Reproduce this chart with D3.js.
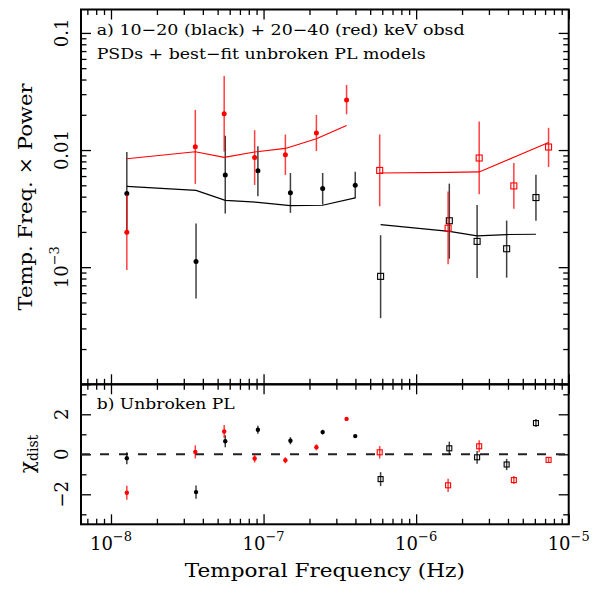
<!DOCTYPE html>
<html>
<head>
<meta charset="utf-8">
<script src="https://cdn.jsdelivr.net/npm/d3@7"></script>
<style>
  body { margin: 0; background: #fff; }
  svg { display: block; font-family: "DejaVu Serif", serif; }
</style>
</head>
<body>
<div id="chart"></div>
<script>
"use strict";

/* 10-20 keV (black), low frequencies: filled circles */
var softLowFreq   = [1.27e-8, 3.61e-8, 5.61e-8, 9.18e-8, 1.50e-7, 2.44e-7, 3.99e-7];
var softLowPow    = [0.00425, 0.00112, 0.00612, 0.00667, 0.00431, 0.00469, 0.00500];
var softLowLo     = [0.00202, 0.00054, 0.00287, 0.00403, 0.00291, 0.00342, 0.00388];
var softLowHi     = [0.00962, 0.00236, 0.01325, 0.0108, 0.00637, 0.00637, 0.00654];
var softLowModel  = [0.00490, 0.00453, 0.00372, 0.00358, 0.00336, 0.00338, 0.00390];
var softLowChi    = [-0.2, -1.89, 0.65, 1.23, 0.68, 1.11, 0.91];
var softLowChiErr = [0.3, 0.33, 0.3, 0.2, 0.18, 0.12, 0.06];

/* 20-40 keV (red), low frequencies: filled circles */
var hardLowFreq   = [1.27e-8, 3.57e-8, 5.52e-8, 8.74e-8, 1.39e-7, 2.22e-7, 3.50e-7];
var hardLowPow    = [0.00199, 0.01066, 0.0204, 0.00865, 0.00912, 0.01396, 0.0268];
var hardLowLo     = [0.000944, 0.00514, 0.00973, 0.00504, 0.00612, 0.00981, 0.0202];
var hardLowHi     = [0.00417, 0.0220, 0.0429, 0.01479, 0.01358, 0.01995, 0.0360];
var hardLowModel  = [0.00843, 0.00967, 0.00865, 0.00962, 0.01032, 0.01248, 0.01619];
var hardLowChi    = [-1.92, 0.12, 1.14, -0.21, -0.3, 0.35, 1.77];
var hardLowChiErr = [0.35, 0.33, 0.33, 0.2, 0.15, 0.15, 0.08];

/* 10-20 keV (black), high frequencies: open squares */
var softHighFreq   = [5.85e-7, 1.65e-6, 2.51e-6, 3.92e-6, 6.10e-6];
var softHighPow    = [0.000835, 0.00249, 0.00166, 0.001437, 0.00393];
var softHighLo     = [0.000367, 0.00118, 0.000807, 0.000814, 0.00249];
var softHighHi     = [0.001876, 0.00517, 0.0034, 0.0025, 0.00616];
var softHighModel  = [0.00231, 0.00202, 0.00185, 0.0019, 0.00191];
var softHighChi    = [-1.24, 0.3, -0.15, -0.51, 1.56];
var softHighChiErr = [0.35, 0.33, 0.32, 0.28, 0.2];

/* 20-40 keV (red), high frequencies: open squares */
var hardHighFreq   = [5.77e-7, 1.62e-6, 2.59e-6, 4.37e-6, 7.38e-6];
var hardHighPow    = [0.0067, 0.00215, 0.00855, 0.00494, 0.01061];
var hardHighLo     = [0.00331, 0.00106, 0.00419, 0.00315, 0.00717];
var hardHighHi     = [0.01358, 0.00442, 0.0175, 0.00775, 0.01549];
var hardHighModel  = [0.00637, 0.00645, 0.0065, 0.00868, 0.01161];
var hardHighChi    = [0.1, -1.55, 0.4, -1.29, -0.28];
var hardHighChiErr = [0.31, 0.33, 0.3, 0.2, 0.1];

var xDecades   = [-8, -7, -6, -5];
var yTopLabels = [{ v: 0.1, t: "0.1" }, { v: 0.01, t: "0.01" }, { v: 0.001, t: "10", sup: "−3" }];
var yBotLabels = [{ v: 2, t: "2" }, { v: 0, t: "0" }, { v: -2, t: "−2" }];


var series = [
  { color: "black", marker: "circle", freq: softLowFreq, pow: softLowPow, lo: softLowLo, hi: softLowHi, model: softLowModel, chi: softLowChi, chiErr: softLowChiErr },
  { color: "black", marker: "square", freq: softHighFreq, pow: softHighPow, lo: softHighLo, hi: softHighHi, model: softHighModel, chi: softHighChi, chiErr: softHighChiErr },
  { color: "red",   marker: "circle", freq: hardLowFreq, pow: hardLowPow, lo: hardLowLo, hi: hardLowHi, model: hardLowModel, chi: hardLowChi, chiErr: hardLowChiErr },
  { color: "red",   marker: "square", freq: hardHighFreq, pow: hardHighPow, lo: hardHighLo, hi: hardHighHi, model: hardHighModel, chi: hardHighChi, chiErr: hardHighChiErr }
];

series.forEach(function (s) {
  s.points = s.freq.map(function (f, i) {
    return { f: f, p: s.pow[i], lo: s.lo[i], hi: s.hi[i], m: s.model[i], c: s.chi[i], ce: s.chiErr[i] };
  });
});


var W = 594, H = 589;
var pLeft = 81, pRight = 568.7, pTop = 9.5, pMid = 384.3, pBottom = 524.3;

var svg = d3.select("#chart")
            .append("svg")
            .attr("width", W)
            .attr("height", H);

var x = d3.scaleLog()
          .domain([6.36e-9, 1e-5])
          .range([pLeft, pRight]);

var yTop = d3.scaleLog()
             .domain([1e-4, Math.pow(10, -0.8)])
             .range([pMid, pTop]);

var yBot = d3.scaleLinear()
             .domain([-3.5, 3.5])
             .range([pBottom, pMid]);


/* tick marks, all pointing inward */
var isDecade = function (v) {
  var l = Math.log10(v);
  return Math.abs(l - Math.round(l)) < 1e-6;
};

var xAll = x.ticks();
var xMajor = xAll.filter(isDecade);
var xMinor = xAll.filter(function (v) { return !isDecade(v); });

var yAll = yTop.ticks();
var yMajor = yAll.filter(isDecade);
var yMinor = yAll.filter(function (v) { return !isDecade(v); });

var bMajor = [-2, 0, 2];
var bMinor = [-3, -1, 1, 3];

var tickGroup = function (axis, values, size, tx, ty) {
  svg.append("g")
     .attr("transform", "translate(" + tx + "," + ty + ")")
     .call(axis.tickValues(values).tickSize(size).tickSizeOuter(0).tickFormat(""))
     .call(function (g) {
       g.select(".domain").remove();
       g.selectAll(".tick line").attr("stroke", "black").attr("stroke-width", 1.3);
     });
};

var MAJ = 10, MIN = 5.5;

[[pTop, "top"], [pMid, "bottom"], [pMid, "top"], [pBottom, "bottom"]].forEach(function (d) {
  var axisFn = d[1] == "top" ? d3.axisTop : d3.axisBottom;
  tickGroup(axisFn(x), xMajor, -MAJ, 0, d[0]);
  tickGroup(axisFn(x), xMinor, -MIN, 0, d[0]);
});

tickGroup(d3.axisLeft(yTop), yMajor, -MAJ, pLeft, 0);
tickGroup(d3.axisLeft(yTop), yMinor, -MIN, pLeft, 0);
tickGroup(d3.axisRight(yTop), yMajor, -MAJ, pRight, 0);
tickGroup(d3.axisRight(yTop), yMinor, -MIN, pRight, 0);

tickGroup(d3.axisLeft(yBot), bMajor, -MAJ, pLeft, 0);
tickGroup(d3.axisLeft(yBot), bMinor, -MIN, pLeft, 0);
tickGroup(d3.axisRight(yBot), bMajor, -MAJ, pRight, 0);
tickGroup(d3.axisRight(yBot), bMinor, -MIN, pRight, 0);


/* panel frames */
svg.append("rect")
   .attr("x", pLeft).attr("y", pTop)
   .attr("width", pRight - pLeft).attr("height", pMid - pTop)
   .attr("fill", "none").attr("stroke", "black").attr("stroke-width", 2);

svg.append("rect")
   .attr("x", pLeft).attr("y", pMid)
   .attr("width", pRight - pLeft).attr("height", pBottom - pMid)
   .attr("fill", "none").attr("stroke", "black").attr("stroke-width", 2);


/* zero line in residual panel */
svg.append("line")
   .attr("x1", pLeft)
   .attr("x2", pRight)
   .attr("y1", yBot(0))
   .attr("y2", yBot(0))
   .attr("stroke", "#222")
   .attr("stroke-width", 2)
   .attr("stroke-dasharray", "9,10");


/* data */
var line = d3.line()
             .x(function (d) { return x(d.f); })
             .y(function (d) { return yTop(d.m); });

series.forEach(function (s, k) {

  var g = svg.append("g");

  g.append("path")
   .attr("d", line(s.points))
   .attr("fill", "none")
   .attr("stroke", s.color)
   .attr("stroke-width", 1.2);

  g.selectAll(".err" + k)
   .data(s.points)
   .enter()
   .append("line")
   .attr("x1", function (d) { return x(d.f); })
   .attr("x2", function (d) { return x(d.f); })
   .attr("y1", function (d) { return yTop(d.hi); })
   .attr("y2", function (d) { return yTop(d.lo); })
   .attr("stroke", s.color)
   .attr("stroke-opacity", 0.75)
   .attr("stroke-width", 1.5);

  g.selectAll(".rerr" + k)
   .data(s.points)
   .enter()
   .append("line")
   .attr("x1", function (d) { return x(d.f); })
   .attr("x2", function (d) { return x(d.f); })
   .attr("y1", function (d) { return yBot(d.c + d.ce); })
   .attr("y2", function (d) { return yBot(d.c - d.ce); })
   .attr("stroke", s.color)
   .attr("stroke-opacity", 0.75)
   .attr("stroke-width", 1.5);

  if (s.marker == "circle") {
    g.selectAll(".pt" + k)
     .data(s.points)
     .enter()
     .append("circle")
     .attr("cx", function (d) { return x(d.f); })
     .attr("cy", function (d) { return yTop(d.p); })
     .attr("r", 2.5)
     .attr("fill", s.color);

    g.selectAll(".rpt" + k)
     .data(s.points)
     .enter()
     .append("circle")
     .attr("cx", function (d) { return x(d.f); })
     .attr("cy", function (d) { return yBot(d.c); })
     .attr("r", 2.2)
     .attr("fill", s.color);
  } else {
    g.selectAll(".pt" + k)
     .data(s.points)
     .enter()
     .append("rect")
     .attr("x", function (d) { return x(d.f) - 3; })
     .attr("y", function (d) { return yTop(d.p) - 3; })
     .attr("width", 6)
     .attr("height", 6)
     .attr("fill", "none")
     .attr("stroke", s.color)
     .attr("stroke-width", 1.1);

    g.selectAll(".rpt" + k)
     .data(s.points)
     .enter()
     .append("rect")
     .attr("x", function (d) { return x(d.f) - 2.5; })
     .attr("y", function (d) { return yBot(d.c) - 2.5; })
     .attr("width", 5)
     .attr("height", 5)
     .attr("fill", "none")
     .attr("stroke", s.color)
     .attr("stroke-width", 1.1);
  }
});


/* tick labels */
svg.selectAll(".xlab")
   .data(xDecades)
   .enter()
   .append("text")
   .attr("x", function (d) { return x(Math.pow(10, d)); })
   .attr("y", 550)
   .attr("text-anchor", "middle")
   .attr("font-size", 18)
   .each(function (d) {
     var t = d3.select(this);
     t.append("tspan").text("10");
     t.append("tspan").attr("dy", -9).attr("font-size", 13).text("−" + (-d));
   });

svg.selectAll(".ylab")
   .data(yTopLabels)
   .enter()
   .append("text")
   .attr("transform", function (d) { return "translate(68," + yTop(d.v) + ") rotate(-90)"; })
   .attr("text-anchor", "middle")
   .attr("font-size", 18)
   .each(function (d) {
     var t = d3.select(this);
     t.append("tspan").text(d.t);
     if (d.sup) {
       t.append("tspan").attr("dy", -9).attr("font-size", 13).text(d.sup);
     }
   });

svg.selectAll(".blab")
   .data(yBotLabels)
   .enter()
   .append("text")
   .attr("transform", function (d) { return "translate(68," + yBot(d.v) + ") rotate(-90)"; })
   .attr("text-anchor", "middle")
   .attr("font-size", 18)
   .text(function (d) { return d.t; });


/* titles */
svg.append("text")
   .attr("x", (pLeft + pRight) / 2)
   .attr("y", 577)
   .attr("text-anchor", "middle")
   .attr("font-size", 19)
   .attr("textLength", 280)
   .attr("lengthAdjust", "spacingAndGlyphs")
   .text("Temporal Frequency (Hz)");

svg.append("text")
   .attr("transform", "translate(32,197) rotate(-90)")
   .attr("text-anchor", "middle")
   .attr("font-size", 19)
   .attr("textLength", 227)
   .attr("lengthAdjust", "spacingAndGlyphs")
   .text("Temp. Freq. × Power");

var chiLab = svg.append("text")
                .attr("transform", "translate(34,454) rotate(-90)")
                .attr("text-anchor", "middle")
                .attr("font-size", 20);
chiLab.append("tspan").text("χ");
chiLab.append("tspan").attr("dy", 4).attr("font-size", 14).text("dist");

var notes = [
  { t: "a) 10−20 (black) + 20−40 (red) keV obsd", y: 34.7, w: 368 },
  { t: "PSDs + best−fit unbroken PL models", y: 59.3, w: 329 },
  { t: "b) Unbroken PL", y: 409.3, w: 138 }
];

svg.selectAll(".note")
   .data(notes)
   .enter()
   .append("text")
   .attr("x", 96.7)
   .attr("y", function (d) { return d.y; })
   .attr("font-size", 15)
   .attr("textLength", function (d) { return d.w; })
   .attr("lengthAdjust", "spacingAndGlyphs")
   .text(function (d) { return d.t; });
</script>
</body>
</html>
